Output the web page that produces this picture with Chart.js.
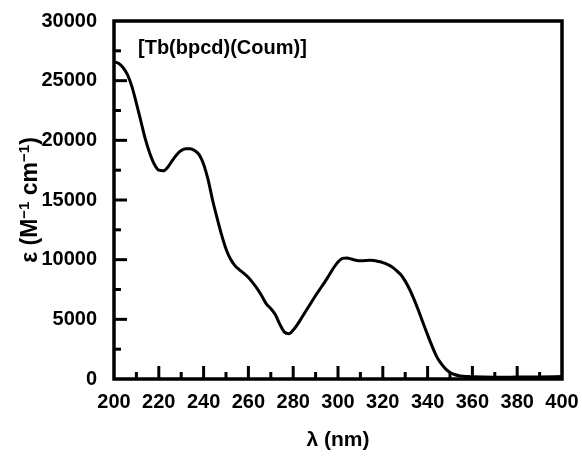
<!DOCTYPE html>
<html>
<head>
<meta charset="utf-8">
<script src="https://cdn.jsdelivr.net/npm/chart.js@4.4.1/dist/chart.umd.min.js"></script>
<style>
    html, body { margin: 0; padding: 0; background: #fff; }
    #wrap { width: 582px; height: 459px; }
</style>
</head>
<body>
<div id="wrap"><canvas id="specChart" width="582" height="459"></canvas></div>
<script>
// wavelength (nm) and molar absorptivity
const wavelengths = [
    200, 202, 204, 206, 208, 210, 212, 214, 216, 218,
    220, 222, 224, 226, 228, 230, 232, 234, 236, 238,
    240, 242, 244, 246, 248, 250, 252, 254, 256, 258,
    260, 262, 264, 266, 268, 270, 272, 274, 276, 278,
    280, 282, 284, 286, 288, 290, 292, 294, 296, 298,
    300, 302, 304, 306, 308, 310, 312, 314, 316, 318,
    320, 322, 324, 326, 328, 330, 332, 334, 336, 338,
    340, 342, 344, 346, 348, 350, 352, 354, 356, 358,
    360, 370, 380, 390, 400
];
const epsilon = [
    26600, 26450, 26100, 25500, 24500, 23100, 21600, 20100, 18900, 18000,
    17500, 17450, 17750, 18300, 18800, 19150, 19300, 19300, 19150, 18800,
    18000, 16700, 15000, 13500, 12100, 10900, 10050, 9500, 9150, 8850,
    8500, 8050, 7550, 6950, 6300, 5900, 5400, 4600, 3950, 3800,
    4100, 4600, 5200, 5800, 6400, 7000, 7550, 8100, 8700, 9300,
    9800, 10100, 10150, 10050, 9950, 9900, 9920, 9950, 9930, 9850,
    9750, 9600, 9400, 9100, 8750, 8200, 7500, 6650, 5700, 4700,
    3700, 2750, 1900, 1300, 850, 550, 380, 280, 230, 200,
    180, 150, 160, 170, 200
];
const xTicks = [200, 220, 240, 260, 280, 300, 320, 340, 360, 380, 400];
const yTicks = [0, 5000, 10000, 15000, 20000, 25000, 30000];
const sampleLabel = "[Tb(bpcd)(Coum)]";
// y title pieces: [text, superscript?]
const yTitleParts = [["ε (M", false], ["−1", true], [" cm", false], ["−1", true], [")", false]];

const FONT = "'Liberation Sans', Arial, sans-serif";

// frame, inward ticks, y title and sample label
const framePlugin = {
    id: "frame",
    afterDraw(chart) {
        const { ctx, chartArea: a, scales } = chart;
        const x = scales.x, y = scales.y;
        ctx.save();
        ctx.strokeStyle = "#000";
        ctx.lineCap = "butt";
        ctx.lineWidth = 3;
        for (let v = 210; v < 400; v += 10) {
            const px = x.getPixelForValue(v);
            const len = v % 20 === 0 ? 13 : 7;
            ctx.beginPath();
            ctx.moveTo(px, a.bottom);
            ctx.lineTo(px, a.bottom - len);
            ctx.stroke();
        }
        for (let v = 2500; v < 30000; v += 2500) {
            const py = y.getPixelForValue(v);
            const len = v % 5000 === 0 ? 13 : 7;
            ctx.beginPath();
            ctx.moveTo(a.left, py);
            ctx.lineTo(a.left + len, py);
            ctx.stroke();
        }
        ctx.lineWidth = 3.5;
        ctx.strokeRect(a.left, a.top, a.right - a.left, a.bottom - a.top);

        ctx.fillStyle = "#000";
        ctx.font = "bold 20px " + FONT;
        ctx.textBaseline = "middle";
        ctx.textAlign = "left";
        ctx.fillText(sampleLabel, a.left + 24, a.top + 27);

        // rotated y title with real superscripts
        const big = "bold 23px " + FONT, small = "bold 15px " + FONT;
        let total = 0;
        yTitleParts.forEach(([t, sup]) => {
            ctx.font = sup ? small : big;
            total += ctx.measureText(t).width;
        });
        ctx.translate(37, 200);
        ctx.rotate(-Math.PI / 2);
        ctx.textBaseline = "alphabetic";
        let cx = -total / 2;
        yTitleParts.forEach(([t, sup]) => {
            ctx.font = sup ? small : big;
            ctx.fillText(t, cx, sup ? -8 : 0);
            cx += ctx.measureText(t).width;
        });
        ctx.restore();
    }
};

new Chart(document.getElementById("specChart"), {
    type: "line",
    data: {
        datasets: [{
            data: wavelengths.map((w, i) => ({ x: w, y: epsilon[i] })),
            borderColor: "#000",
            borderWidth: 3,
            pointRadius: 0,
            cubicInterpolationMode: "monotone",
            fill: false
        }]
    },
    options: {
        responsive: false,
        animation: false,
        layout: { padding: { top: 21, right: 20, bottom: 0, left: 0 } },
        plugins: {
            legend: { display: false },
            tooltip: { enabled: false }
        },
        scales: {
            x: {
                type: "linear",
                min: 200,
                max: 400,
                afterFit: s => { s.height = 80; },
                afterBuildTicks: s => { s.ticks = xTicks.map(v => ({ value: v })); },
                grid: { display: false },
                border: { display: false },
                ticks: {
                    color: "#000",
                    padding: 3,
                    maxRotation: 0,
                    font: { family: FONT, size: 20, weight: "bold" }
                },
                title: {
                    display: true,
                    text: "λ (nm)",
                    color: "#000",
                    padding: { top: 0, bottom: 6 },
                    font: { family: FONT, size: 21, weight: "bold" }
                }
            },
            y: {
                min: 0,
                max: 30000,
                afterFit: s => { s.width = 114; },
                afterBuildTicks: s => { s.ticks = yTicks.map(v => ({ value: v })); },
                grid: { display: false },
                border: { display: false },
                ticks: {
                    color: "#000",
                    padding: 9,
                    callback: v => String(v),
                    font: { family: FONT, size: 20, weight: "bold" }
                }
            }
        }
    },
    plugins: [framePlugin]
});
</script>
</body>
</html>
